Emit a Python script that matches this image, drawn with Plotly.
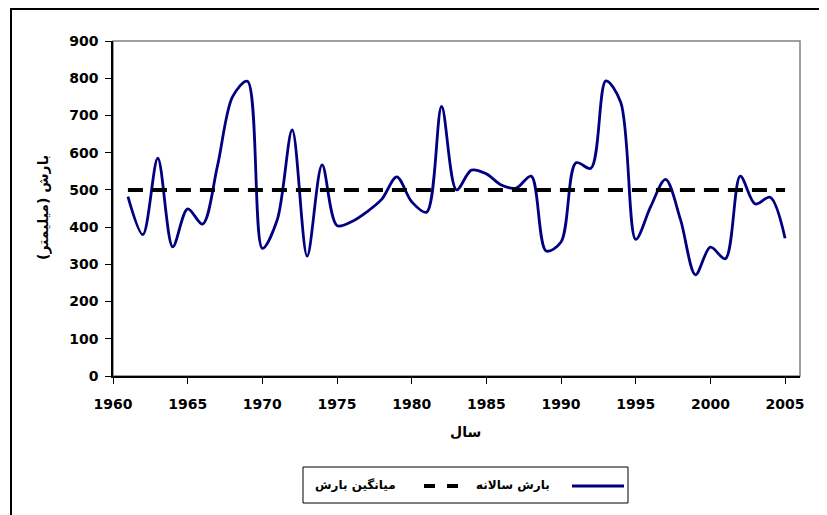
import plotly.graph_objects as go

years = list(range(1961, 2006))
rainfall = [482, 380, 585, 347, 449, 408, 565, 750, 792, 343,
            420, 661, 322, 567, 404, 415, 441, 475, 535, 468,
            440, 724, 500, 553, 543, 513, 505, 537, 336, 360,
            573, 558, 793, 735, 367, 455, 528, 420, 272, 346,
            315, 537, 462, 480, 370]
mean_rain = [500] * len(years)

series_names = ["بارش سالانه", "میانگین بارش"]
x_title = "سال"
y_title = "بارش (میلیمتر)"

# page offset (default body margin of the html page)
OFF = 8
W, H = 827 - OFF, 515 - OFF
PL, PR, PT, PB = 113, 800, 41, 376  # plot area in page pixels
L, R, T, B = PL - OFF, OFF + W - PR, PT - OFF, OFF + H - PB
pw, ph = PR - PL, PB - PT

def fx(px):
    return (px - PL) / pw

def fy(py):
    return (PB - py) / ph

FONT = "DejaVu Sans, Liberation Sans, Arial, sans-serif"
bold = dict(family=FONT, size=14, color="black", weight="bold")
bold_leg = dict(family=FONT, size=12, color="black", weight="bold")

fig = go.Figure()
fig.add_trace(go.Scatter(
    x=years, y=rainfall, mode="lines", name=series_names[0],
    line=dict(color="#000080", width=2.8, shape="spline", smoothing=0.9),
    showlegend=False,
))
fig.add_trace(go.Scatter(
    x=years, y=mean_rain, mode="lines", name=series_names[1],
    line=dict(color="#000000", width=4, dash="15px,9px"),
    showlegend=False,
))

shapes = [
    dict(type="rect", xref="paper", yref="paper", x0=0, x1=1, y0=0, y1=1,
         line=dict(color="#808080", width=1.5), layer="below"),
    dict(type="rect", xref="paper", yref="paper", x0=fx(11), x1=fx(840), y0=fy(9), y1=fy(530),
         line=dict(color="black", width=2)),
    # legend box
    dict(type="rect", xref="paper", yref="paper", x0=fx(303), x1=fx(628), y0=fy(467), y1=fy(503),
         line=dict(color="black", width=1), fillcolor="white"),
    # legend sample: annual rainfall (navy line)
    dict(type="line", xref="paper", yref="paper", x0=fx(572), x1=fx(624), y0=fy(486), y1=fy(486),
         line=dict(color="#000080", width=2.8)),
    # legend sample: mean (dashed)
    dict(type="line", xref="paper", yref="paper", x0=fx(424), x1=fx(435), y0=fy(486), y1=fy(486),
         line=dict(color="black", width=4)),
    dict(type="line", xref="paper", yref="paper", x0=fx(447), x1=fx(458), y0=fy(486), y1=fy(486),
         line=dict(color="black", width=4)),
]

fig.update_layout(
    width=W, height=H,
    margin=dict(l=L, r=R, t=T, b=B),
    paper_bgcolor="white", plot_bgcolor="white",
    showlegend=False,
    xaxis=dict(
        range=[1960, 2006], tickmode="array", tickvals=list(range(1960, 2006, 5)),
        ticks="outside", ticklen=6, tickcolor="black", tickwidth=1,
        showline=True, linecolor="black", linewidth=1.5, ticklabelstandoff=8,
        showgrid=False, zeroline=False, tickfont=bold,
    ),
    yaxis=dict(
        range=[0, 900], tickmode="array", tickvals=list(range(0, 901, 100)),
        ticks="outside", ticklen=6, tickcolor="black", tickwidth=1,
        showline=True, linecolor="black", linewidth=1.5, ticklabelstandoff=4,
        showgrid=False, zeroline=False, tickfont=bold,
    ),
    shapes=shapes,
    annotations=[
        dict(text=x_title, xref="paper", yref="paper", x=fx(465), y=fy(432),
             xanchor="center", yanchor="middle", showarrow=False, font=bold),
        dict(text=y_title, xref="paper", yref="paper", x=fx(43), y=fy(208), textangle=-90,
             xanchor="center", yanchor="middle", showarrow=False, font=bold),
        dict(text=series_names[0], xref="paper", yref="paper", x=fx(552), y=fy(485),
             xanchor="right", yanchor="middle", showarrow=False, font=bold_leg),
        dict(text=series_names[1], xref="paper", yref="paper", x=fx(398), y=fy(485),
             xanchor="right", yanchor="middle", showarrow=False, font=bold_leg),
    ],
)

fig.write_html("out.html")
